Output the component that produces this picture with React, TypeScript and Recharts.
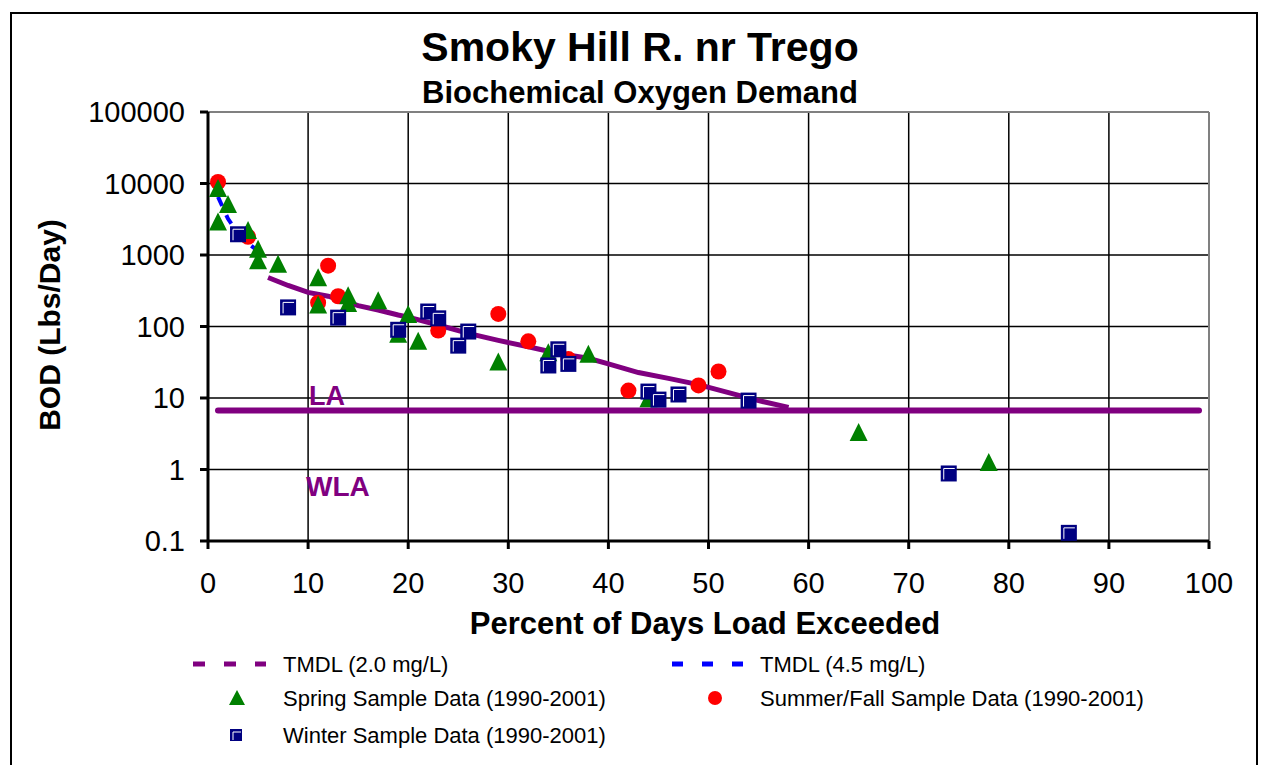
import React from 'react';
import {
  ComposedChart,
  Line,
  Scatter,
  XAxis,
  YAxis,
  CartesianGrid,
  ReferenceLine,
  Legend,
} from 'recharts';

const FONT = '"Liberation Sans", Arial, Helvetica, sans-serif';

const xTicks = [0, 10, 20, 30, 40, 50, 60, 70, 80, 90, 100];
const yTicks = [0.1, 1, 10, 100, 1000, 10000, 100000];

// TMDL (2.0 mg/L) curve
const tmdl20: [number, number][] = [
  [6, 484], [8, 375], [10, 300], [12, 265], [15, 196], [17, 170], [19, 145],
  [20, 135], [23, 105], [26, 80], [29, 64], [32, 52], [35, 42], [38, 36],
  [40, 30], [43, 22.7], [46, 18.8], [49, 15.4], [52, 11.9], [55, 9.2], [58, 7.4],
];

// TMDL (4.5 mg/L) curve
const tmdl45: [number, number][] = [
  [1, 6500], [2, 3200], [3, 2000], [4, 1450], [4.8, 1200],
];

// Load allocation line
const laLine: [number, number][] = [
  [1, 6.7], [99, 6.7],
];

const springData: [number, number][] = [
  [1, 8500], [1, 2900], [2, 5100], [4, 2200], [5, 1200], [5, 830], [7, 740],
  [11, 480], [11, 200], [14, 270], [14, 210], [17, 230], [19, 78], [20, 147],
  [21, 62], [29, 32], [34, 43], [38, 41], [44, 9.8], [65, 3.3], [78, 1.25],
];

const summerData: [number, number][] = [
  [1, 10500], [4, 1800], [11, 215], [12, 710], [13, 265], [23, 88], [29, 150],
  [32, 62], [36, 35], [42, 12.7], [49, 15], [51, 23.5],
];

const winterData: [number, number][] = [
  [3, 1950], [8, 185], [13, 133], [19, 90], [22, 162], [23, 130], [25, 54],
  [26, 85], [34, 28.5], [35, 48], [36, 30], [44, 12.3], [45, 9.5], [47, 11.2],
  [54, 9.2], [74, 0.88], [86, 0.13],
];

const toPts = (arr: [number, number][]) => arr.map(([x, y]) => ({ x, y }));

const PURPLE = '#800080';
const BLUE = '#0000FF';
const GREEN = '#008000';
const RED = '#FF0000';
const NAVY = '#000080';

const Triangle = (props: any) => {
  const { cx, cy } = props;
  if (cx == null || cy == null) return null;
  const w = 18;
  const h = 17;
  return (
    <polygon
      points={`${cx},${cy - h / 2 - 1} ${cx - w / 2},${cy + h / 2} ${cx + w / 2},${cy + h / 2}`}
      fill={GREEN}
    />
  );
};

const Dot = (props: any) => {
  const { cx, cy } = props;
  if (cx == null || cy == null) return null;
  return <circle cx={cx} cy={cy} r={8} fill={RED} />;
};

const Square = (props: any) => {
  const { cx, cy } = props;
  if (cx == null || cy == null) return null;
  const s = 16;
  const x = cx - s / 2;
  const y = cy - s / 2;
  return (
    <g>
      <rect x={x} y={y} width={s} height={s} fill={NAVY} />
      <polyline
        points={`${x + 3},${y + s - 2} ${x + 3},${y + 3} ${x + s - 2},${y + 3}`}
        fill="none"
        stroke="#FFFFFF"
        strokeWidth={1}
      />
    </g>
  );
};

const LegendContent = () => {
  const r1 = 24;
  const r2 = 58;
  const r3 = 95;
  const textStyle = { fontFamily: FONT, fontSize: 22, fill: '#000' } as const;
  return (
    <svg width={1261} height={110} style={{ display: 'block' }}>
      <line x1={193} x2={266} y1={r1} y2={r1} stroke={PURPLE} strokeWidth={5} strokeDasharray="12 19" />
      <text x={283} y={r1 + 8} style={textStyle}>TMDL (2.0 mg/L)</text>
      <line x1={672} x2={745} y1={r1} y2={r1} stroke={BLUE} strokeWidth={5} strokeDasharray="11 19" />
      <text x={760} y={r1 + 8} style={textStyle}>TMDL (4.5 mg/L)</text>

      <polygon points={`237,${r2 - 8} 229,${r2 + 7} 245,${r2 + 7}`} fill={GREEN} />
      <text x={283} y={r2 + 8} style={textStyle}>Spring Sample Data (1990-2001)</text>
      <circle cx={715} cy={r2} r={7} fill={RED} />
      <text x={760} y={r2 + 8} style={textStyle}>Summer/Fall Sample Data (1990-2001)</text>

      <rect x={230} y={r3 - 6} width={12} height={12} fill={NAVY} />
      <polyline points={`233,${r3 + 5} 233,${r3 - 3} 241,${r3 - 3}`} fill="none" stroke="#fff" strokeWidth={1} />
      <text x={283} y={r3 + 8} style={textStyle}>Winter Sample Data (1990-2001)</text>
    </svg>
  );
};

const tickStyle = { fontFamily: FONT, fontSize: 29, fill: '#000' };

export default function App() {
  return (
    <div style={{ position: 'absolute', left: 0, top: 0, width: 1261, height: 765, background: '#fff', overflow: 'hidden' }}>
      <ComposedChart
        width={1261}
        height={765}
        margin={{ top: 112, right: 52, left: 0, bottom: 0 }}
        style={{ fontFamily: FONT }}
      >
        <CartesianGrid stroke="#000" strokeWidth={1.5} />
        <XAxis
          type="number"
          dataKey="x"
          domain={[0, 100]}
          ticks={xTicks}
          interval={0}
          height={224}
          tickSize={8}
          tickMargin={23}
          axisLine={{ stroke: '#000', strokeWidth: 3 }}
          tickLine={{ stroke: '#000', strokeWidth: 3 }}
          tick={tickStyle}
          allowDataOverflow
        />
        <YAxis
          type="number"
          dataKey="y"
          scale="log"
          domain={[0.1, 100000]}
          ticks={yTicks}
          interval={0}
          width={208}
          tickSize={8}
          tickMargin={15}
          axisLine={{ stroke: '#000', strokeWidth: 3 }}
          tickLine={{ stroke: '#000', strokeWidth: 3 }}
          tick={tickStyle}
          tickFormatter={(v: number) => String(v)}
          allowDataOverflow
        />
        <ReferenceLine y={100000} stroke="#808080" strokeWidth={2} />
        <ReferenceLine x={100} stroke="#808080" strokeWidth={2} />
        <Line
          data={toPts(laLine)}
          dataKey="y"
          type="linear"
          stroke={PURPLE}
          strokeWidth={6}
          strokeLinecap="round"
          dot={false}
          isAnimationActive={false}
          legendType="none"
        />
        <Line
          data={toPts(tmdl20)}
          dataKey="y"
          type="linear"
          stroke={PURPLE}
          strokeWidth={5}
          dot={false}
          isAnimationActive={false}
          name="TMDL (2.0 mg/L)"
        />
        <Line
          data={toPts(tmdl45)}
          dataKey="y"
          type="linear"
          stroke={BLUE}
          strokeWidth={4}
          strokeDasharray="10 10"
          dot={false}
          isAnimationActive={false}
          name="TMDL (4.5 mg/L)"
        />
        <Scatter
          data={toPts(summerData)}
          dataKey="y"
          shape={Dot}
          isAnimationActive={false}
          name="Summer/Fall Sample Data (1990-2001)"
        />
        <Scatter
          data={toPts(springData)}
          dataKey="y"
          shape={Triangle}
          isAnimationActive={false}
          name="Spring Sample Data (1990-2001)"
        />
        <Scatter
          data={toPts(winterData)}
          dataKey="y"
          shape={Square}
          isAnimationActive={false}
          name="Winter Sample Data (1990-2001)"
        />
        <Legend
          layout="vertical"
          align="center"
          verticalAlign="middle"
          wrapperStyle={{ left: 0, top: 640, width: 1261, height: 110 }}
          content={LegendContent}
        />
      </ComposedChart>
      <svg
        width={1261}
        height={765}
        style={{ position: 'absolute', left: 0, top: 0, pointerEvents: 'none' }}
      >
        <rect x={11} y={13} width={1246} height={770} fill="none" stroke="#000" strokeWidth={2} />
        <text x={640} y={61} textAnchor="middle" style={{ fontFamily: FONT, fontSize: 41, fontWeight: 'bold', fill: '#000' }}>
          Smoky Hill R. nr Trego
        </text>
        <text x={640} y={103} textAnchor="middle" style={{ fontFamily: FONT, fontSize: 31, fontWeight: 'bold', fill: '#000' }}>
          Biochemical Oxygen Demand
        </text>
        <text x={705} y={634} textAnchor="middle" style={{ fontFamily: FONT, fontSize: 31, fontWeight: 'bold', fill: '#000' }}>
          Percent of Days Load Exceeded
        </text>
        <text
          x={0}
          y={0}
          textAnchor="middle"
          transform="translate(60,325) rotate(-90)"
          style={{ fontFamily: FONT, fontSize: 30, fontWeight: 'bold', fill: '#000' }}
        >
          BOD (Lbs/Day)
        </text>
        <text x={309} y={405} style={{ fontFamily: FONT, fontSize: 27, fontWeight: 'bold', fill: PURPLE }}>
          LA
        </text>
        <text x={306} y={496} style={{ fontFamily: FONT, fontSize: 28, fontWeight: 'bold', fill: PURPLE }}>
          WLA
        </text>
      </svg>
    </div>
  );
}
